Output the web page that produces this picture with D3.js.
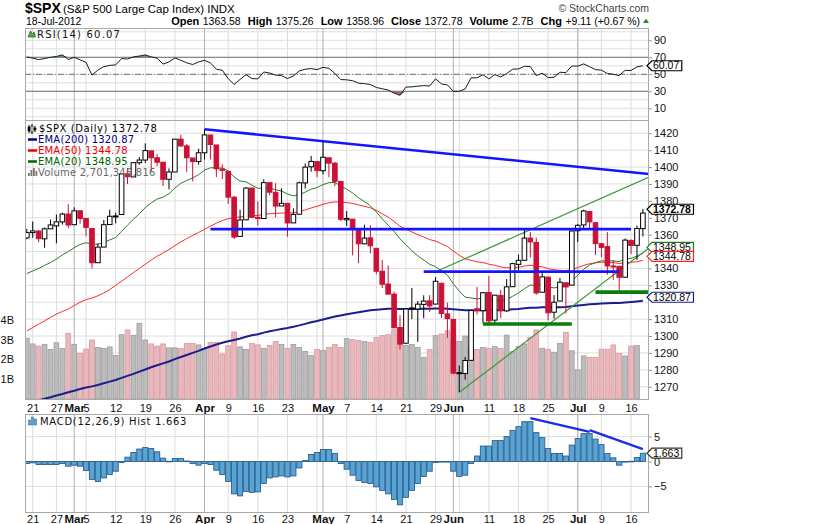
<!DOCTYPE html>
<html>
<head>
<meta charset="utf-8">
<script src="https://d3js.org/d3.v7.min.js"></script>
<style>
  body { margin: 0; background: #fff; }
</style>
</head>
<body>
<div class="canvas"></div>
<script>
// trading days shown (2012)
const dates = ["02-17","02-21","02-22","02-23","02-24","02-27","02-28","02-29",
  "03-01","03-02","03-05","03-06","03-07","03-08","03-09","03-12","03-13","03-14","03-15","03-16","03-19","03-20","03-21","03-22","03-23","03-26","03-27","03-28","03-29","03-30",
  "04-02","04-03","04-04","04-05","04-09","04-10","04-11","04-12","04-13","04-16","04-17","04-18","04-19","04-20","04-23","04-24","04-25","04-26","04-27","04-30",
  "05-01","05-02","05-03","05-04","05-07","05-08","05-09","05-10","05-11","05-14","05-15","05-16","05-17","05-18","05-21","05-22","05-23","05-24","05-25","05-29","05-30","05-31",
  "06-01","06-04","06-05","06-06","06-07","06-08","06-11","06-12","06-13","06-14","06-15","06-18","06-19","06-20","06-21","06-22","06-25","06-26","06-27","06-28","06-29",
  "07-02","07-03","07-05","07-06","07-09","07-10","07-11","07-12","07-13","07-16","07-17","07-18"];

const open = [1358.06,1361.22,1362.11,1357.53,1363.46,1365.20,1367.56,1372.20,
  1365.90,1374.09,1369.59,1363.63,1343.39,1352.65,1365.97,1370.78,1371.92,1395.95,1394.17,1402.55,1404.17,1409.59,1405.52,1402.89,1392.78,1397.11,1416.55,1412.52,1405.39,1403.31,
  1408.47,1418.98,1413.09,1398.79,1397.45,1382.18,1358.98,1368.77,1387.61,1370.27,1369.57,1390.78,1385.08,1376.96,1378.53,1366.97,1372.11,1390.64,1400.19,1403.26,
  1397.86,1405.50,1402.32,1391.51,1368.79,1369.16,1363.20,1354.58,1358.11,1351.93,1338.36,1330.78,1324.82,1305.05,1295.73,1316.09,1316.02,1318.72,1320.81,1318.90,1331.25,1313.09,
  1309.87,1278.29,1277.82,1285.61,1316.15,1314.99,1325.72,1309.40,1324.02,1314.88,1329.19,1342.42,1344.83,1357.98,1355.43,1325.92,1334.90,1314.09,1320.71,1331.52,1330.12,
  1362.33,1365.75,1373.72,1367.09,1354.66,1352.96,1341.40,1341.29,1334.81,1356.50,1353.68,1363.58];

const high = [1363.40,1367.76,1362.70,1364.24,1368.92,1371.94,1373.09,1378.04,
  1376.17,1374.53,1369.59,1363.63,1354.85,1368.72,1374.76,1373.04,1396.13,1399.42,1402.63,1405.88,1414.00,1409.59,1407.75,1402.89,1399.18,1416.58,1419.15,1413.65,1405.39,1410.89,
  1422.38,1419.00,1413.09,1401.60,1397.45,1383.01,1374.71,1388.13,1387.61,1379.66,1392.76,1390.78,1390.46,1387.40,1378.53,1375.57,1391.37,1402.09,1406.64,1403.26,
  1415.32,1405.50,1403.07,1391.51,1373.91,1369.16,1363.73,1365.88,1365.66,1351.93,1344.94,1341.78,1326.36,1312.24,1316.39,1328.49,1320.71,1324.14,1324.20,1334.93,1331.25,1319.74,
  1309.87,1282.55,1287.62,1315.13,1329.05,1325.81,1335.52,1324.31,1327.28,1333.68,1343.32,1348.22,1363.46,1361.57,1358.27,1337.82,1334.90,1324.24,1334.40,1331.52,1362.17,
  1366.35,1374.81,1373.85,1367.09,1354.87,1361.54,1345.00,1341.29,1357.70,1357.26,1365.36,1375.26];

const low = [1357.24,1358.11,1355.53,1352.28,1363.46,1354.92,1365.97,1363.81,
  1365.90,1366.42,1359.13,1340.03,1343.39,1352.65,1365.97,1366.69,1371.92,1389.97,1394.17,1401.47,1402.43,1397.68,1400.64,1388.73,1386.87,1397.11,1411.95,1397.20,1391.56,1401.42,
  1404.46,1404.62,1394.09,1392.92,1378.24,1357.38,1358.98,1368.77,1369.85,1365.38,1369.57,1383.29,1370.30,1376.96,1358.79,1366.82,1372.11,1387.28,1397.31,1394.00,
  1395.73,1393.92,1388.71,1367.96,1365.12,1347.75,1343.13,1354.58,1348.89,1336.61,1328.41,1324.79,1304.86,1291.98,1295.73,1310.04,1296.53,1310.50,1314.23,1318.90,1310.76,1298.90,
  1277.25,1266.74,1274.16,1285.61,1312.68,1307.77,1307.73,1306.62,1310.51,1314.14,1329.19,1338.63,1344.83,1346.45,1324.41,1325.92,1309.27,1310.30,1320.71,1313.29,1330.12,
  1355.70,1363.53,1363.02,1348.03,1346.65,1336.27,1333.25,1325.41,1334.81,1348.51,1345.07,1358.96];

const close = [1361.23,1362.21,1357.66,1363.46,1365.74,1367.59,1372.18,1365.68,
  1374.09,1369.63,1364.33,1343.36,1352.63,1365.91,1370.87,1371.09,1395.95,1394.28,1402.60,1404.17,1409.75,1405.52,1402.89,1392.78,1397.11,1416.51,1412.52,1405.54,1403.28,1408.47,
  1419.04,1413.38,1398.96,1398.08,1382.20,1358.59,1368.71,1387.57,1370.26,1369.57,1390.78,1385.14,1376.92,1378.53,1366.94,1371.97,1390.69,1399.98,1403.36,1397.91,
  1405.82,1402.31,1391.57,1369.10,1369.58,1363.72,1354.58,1357.99,1353.39,1338.35,1330.66,1324.80,1304.86,1295.22,1315.99,1316.63,1318.86,1320.68,1317.82,1332.42,1313.32,1310.33,
  1278.04,1278.18,1285.50,1315.13,1314.99,1325.66,1308.93,1324.18,1314.88,1329.10,1342.84,1344.78,1357.98,1355.69,1325.51,1335.02,1313.72,1319.99,1331.85,1329.04,1362.16,
  1365.51,1374.02,1367.58,1354.68,1352.46,1341.47,1341.45,1334.76,1356.78,1353.64,1363.67,1372.78];

// volume, billions of shares
const volume = [3.07,2.78,2.67,2.76,2.50,2.84,2.55,3.32,
  2.76,2.30,2.52,2.98,2.60,2.55,2.63,2.20,3.25,3.49,3.22,3.83,2.98,2.78,2.67,2.78,2.58,2.58,2.55,2.80,2.80,2.73,
  2.55,2.86,2.86,2.27,2.69,3.39,2.63,2.50,2.80,2.73,2.55,2.70,2.90,2.75,2.55,2.75,2.60,2.40,2.20,2.50,
  2.45,2.60,2.75,2.60,3.05,3.00,2.95,2.90,2.85,3.10,3.20,3.25,3.50,2.85,2.70,2.75,2.60,2.10,2.50,3.20,3.28,3.45,
  2.98,2.90,3.18,2.60,2.50,2.60,2.56,2.64,2.56,3.23,2.39,2.64,2.78,3.12,3.49,2.56,2.51,2.36,2.81,3.37,2.43,
  1.46,2.17,2.10,2.10,2.51,2.51,2.73,2.30,2.17,2.67,2.70];

const ema200 = [1260.0,1261.0,1261.9,1262.9,1263.8,1264.8,1265.7,1266.7,1267.6,1268.6,1269.5,1270.2,1271.0,1272.0,1273.0,1274.0,1275.2,1276.4,1277.6,1278.9,1280.2,1281.5,1282.7,1283.8,1284.9,1286.3,1287.6,1288.8,1290.0,1291.2,
  1292.6,1293.8,1295.0,1296.0,1296.9,1297.6,1298.5,1299.6,1300.4,1301.1,1302.0,1302.8,1303.5,1304.2,1304.8,1305.5,1306.3,1307.2,1308.1,1308.9,
  1309.8,1310.7,1311.5,1312.2,1312.9,1313.5,1314.1,1314.7,1315.2,1315.6,1315.9,1316.1,1316.1,1316.0,1316.0,1316.0,1316.0,1316.1,1316.1,1316.3,1316.3,1316.2,
  1315.9,1315.5,1315.2,1315.2,1315.2,1315.3,1315.3,1315.4,1315.4,1315.5,1315.8,1316.0,1316.4,1316.7,1316.8,1317.0,1317.0,1317.0,1317.1,1317.2,1317.6,
  1318.0,1318.4,1318.8,1319.0,1319.2,1319.4,1319.5,1319.6,1319.9,1320.2,1320.5,1320.87];

const ema50 = [1303.0,1305.0,1307.0,1309.0,1311.0,1313.0,1314.5,1316.0,1318.0,1320.0,1321.5,1322.5,1323.8,1325.5,1327.5,1330.0,1332.5,1335.0,1337.5,1340.0,1342.5,1345.0,1347.2,1349.2,1351.2,1353.5,1355.7,1357.7,1359.5,1361.3,
  1363.2,1365.0,1366.8,1368.3,1369.5,1370.0,1370.5,1371.0,1371.2,1371.4,1372.0,1372.4,1372.6,1372.8,1372.8,1372.9,1373.6,1374.6,1375.8,1376.8,
  1377.9,1378.9,1379.4,1379.3,1379.0,1378.5,1377.6,1376.8,1375.9,1374.4,1372.3,1370.4,1367.8,1365.0,1363.2,1361.6,1360.0,1358.6,1357.1,1356.2,1354.6,1353.0,
  1350.3,1347.8,1345.7,1344.8,1343.9,1343.5,1342.5,1341.9,1340.9,1340.4,1340.5,1340.7,1341.4,1341.9,1341.3,1341.0,1339.9,1339.2,1338.9,1338.6,1339.5,
  1340.5,1341.8,1342.8,1343.3,1343.7,1343.6,1343.5,1342.9,1343.4,1343.6,1344.0,1344.78];

const ema20 = [1337.0,1338.5,1340.0,1341.8,1343.5,1345.5,1348.0,1350.0,1352.3,1354.2,1355.2,1354.5,1354.3,1355.4,1356.9,1358.3,1362.0,1365.6,1369.1,1372.4,1376.0,1378.8,1381.1,1382.2,1384.2,1387.6,1390.4,1392.1,1393.6,1395.5,
  1398.2,1399.6,1399.5,1399.4,1397.8,1394.1,1391.7,1391.3,1389.3,1387.4,1387.8,1387.6,1386.6,1385.8,1384.1,1383.0,1383.7,1385.2,1386.9,1387.9,
  1389.6,1390.8,1390.9,1388.8,1386.9,1384.7,1381.8,1379.6,1377.1,1373.4,1369.4,1365.6,1362.0,1357.5,1354.0,1350.5,1347.5,1345.0,1342.5,1341.0,1338.5,1336.0,
  1331.0,1326.5,1323.0,1322.5,1322.0,1322.3,1321.0,1321.3,1320.8,1321.6,1323.5,1325.5,1328.0,1330.2,1330.0,1330.5,1329.0,1328.5,1329.0,1329.5,1332.5,
  1336.0,1339.5,1342.0,1343.5,1344.5,1344.5,1344.5,1344.0,1345.5,1346.0,1347.3,1348.95];

const rsi = [70.5,69.0,67.3,68.5,70.0,71.0,72.8,67.5,70.0,67.0,64.0,49.0,55.0,59.0,60.5,61.0,68.5,68.0,70.5,71.5,72.8,70.5,69.0,62.0,64.5,69.3,66.5,63.5,61.5,64.5,
  66.5,63.4,56.0,54.7,45.0,38.0,44.0,49.6,45.0,44.6,52.7,51.5,49.0,48.5,45.0,48.0,54.0,56.0,56.7,55.5,
  58.2,57.0,51.0,43.8,43.5,42.5,39.5,39.0,38.0,34.5,33.0,31.5,28.0,25.3,35.0,35.2,36.0,36.7,36.2,44.6,38.7,37.5,
  30.0,30.0,32.8,45.8,45.8,49.6,44.6,49.6,46.9,50.8,56.0,56.3,59.4,59.0,48.5,51.2,46.1,46.5,52.4,52.0,59.8,
  59.6,62.2,59.0,55.5,54.8,51.0,50.0,48.5,54.7,54.5,58.7,60.07];

const macdHist = [-0.40,-0.27,-0.60,-0.60,-0.60,-0.60,-0.40,-0.94,-0.74,-0.94,-1.80,-3.60,-4.00,-3.30,-2.60,-1.95,-0.20,0.87,1.80,2.50,2.80,2.60,1.95,0.67,0.05,0.60,0.60,0.10,-0.40,-0.74,
  -0.40,-0.60,-1.75,-2.60,-4.00,-6.50,-6.90,-6.00,-6.20,-6.10,-4.40,-3.30,-3.10,-2.90,-3.10,-2.90,-1.30,0.20,1.40,1.80,
  2.40,2.40,1.60,-0.40,-1.55,-2.75,-3.80,-4.20,-4.40,-5.10,-5.80,-6.50,-7.60,-8.70,-7.20,-5.80,-4.40,-3.00,-1.95,-0.20,-0.07,-0.05,
  -1.95,-3.00,-2.75,-0.40,1.10,3.10,3.10,4.20,4.20,5.00,6.25,7.00,8.00,8.00,5.80,4.80,2.60,1.60,1.60,1.10,3.30,
  4.60,5.60,5.60,4.50,3.40,1.60,0.74,-0.74,-0.05,0.05,0.80,1.663];

// axis ticks
const priceTicks = [1270,1280,1290,1300,1310,1320,1330,1340,1350,1360,1370,1380,1390,1400,1410,1420];
const volTicks = [1,2,3,4];
const rsiTicks = [10,30,50,70,90];
const rsiGrid = [0,10,20,30,40,50,60,70,80,90,100];
const macdTicks = [-5,0,5];
const weekTicks = ["02-21","02-27","03-05","03-12","03-19","03-26","04-09","04-16","04-23","05-07","05-14","05-21","05-29","06-11","06-18","06-25","07-09","07-16"];
const monthTicks = ["03-01","04-02","05-01","06-01","07-02"];
const monthNames = ["Mar","Apr","May","Jun","Jul"];

// hand drawn annotations: [start date, value, end date, value, extend to edge]
const blueLines = [["04-02",1422.4,"07-18",1396.3,true],["04-03",1363.3,"07-16",1363.3,false],["05-24",1338.1,"07-12",1338.1,false]];
const greenBars = [["06-08",1307.1,"06-29",1307.1,false],["07-06",1326.0,"07-18",1326.0,true]];
const greenRays = [["06-04",1266.7,"07-18",1349.4,true],["05-29",1338.0,"07-18",1392.5,true]];
const macdLines = [["06-20",8.7,"07-05",5.96,false],["07-05",6.3,"07-18",2.5,false]];

const svg = d3.select('.canvas')
    .append('svg')
    .attr('width', 819)
    .attr('height', 524)
    .style('font-family', '"Liberation Sans", Arial, sans-serif')

const plot = { left: 25, right: 649 };
const panes = {
    rsi: { top: 28, bottom: 120 },
    main: { top: 120, bottom: 399 },
    macd: { top: 414, bottom: 512 }
};

const x = d3.scalePoint().domain(dates).range([26.8, 642.9]);
const y = d3.scaleLinear().domain([1270, 1420]).range([386.7, 133.3]);
const yVol = d3.scaleLinear().domain([0, 4]).range([398.7, 319.9]);
const yRsi = d3.scaleLinear().domain([30, 70]).range([91.3, 57.3]);
const yMacd = d3.scaleLinear().domain([-5, 5]).range([486.4, 436.6]);

const parse = d3.timeParse('%Y-%m-%d');
const days = dates.map(d => parse('2012-' + d));
const weekStarts = dates.filter((d, i) => i > 0 && +d3.timeMonday.floor(days[i]) !== +d3.timeMonday.floor(days[i - 1]));
const monthStarts = dates.filter((d, i) => i > 0 && days[i].getMonth() !== days[i - 1].getMonth());
const isUp = i => i === 0 || close[i] >= close[i - 1];
const last = dates.length - 1;

const defs = svg.append('defs');
Object.entries(panes).forEach(([k, p]) => {
    defs.append('clipPath').attr('id', 'clip-' + k)
        .append('rect').attr('x', plot.left).attr('y', p.top)
        .attr('width', plot.right - plot.left).attr('height', p.bottom - p.top);
});

// grid for a pane
function grid(p, yVals, ys) {
    const g = svg.append('g').attr('clip-path', `url(#clip-${p})`);
    const pane = panes[p];
    g.selectAll('line.h').data(yVals).join('line')
        .attr('x1', plot.left).attr('x2', plot.right)
        .attr('y1', d => ys(d)).attr('y2', d => ys(d))
        .attr('stroke', '#dedede');
    g.selectAll('line.w').data(weekStarts).join('line')
        .attr('x1', d => x(d)).attr('x2', d => x(d))
        .attr('y1', pane.top).attr('y2', pane.bottom)
        .attr('stroke', '#dcdcdc');
    g.selectAll('line.m').data(monthStarts).join('line')
        .attr('x1', d => x(d)).attr('x2', d => x(d))
        .attr('y1', pane.top).attr('y2', pane.bottom)
        .attr('stroke', '#b0b0b0');
    return g;
}

function frame(p) {
    svg.append('rect').attr('x', plot.left + 0.5).attr('y', panes[p].top + 0.5)
        .attr('width', plot.right - plot.left - 1).attr('height', panes[p].bottom - panes[p].top)
        .attr('fill', 'none').attr('stroke', '#a8a8a8');
}

// segments defined in data space, optionally extended to the right edge
function segment(g, seg, ys, color, width) {
    const [d1, v1, d2, v2, ext] = seg;
    let x1 = x(d1), y1 = ys(v1), x2 = x(d2), y2 = ys(v2);
    if (ext) {
        const k = (y2 - y1) / (x2 - x1);
        y2 = y2 + k * (plot.right - x2);
        x2 = plot.right;
    }
    g.append('line').attr('x1', x1).attr('y1', y1).attr('x2', x2).attr('y2', y2)
        .attr('stroke', color).attr('stroke-width', width);
}

// ---------- RSI pane ----------
const rsiG = grid('rsi', rsiGrid, yRsi);
rsiG.selectAll('line.lvl').data([70, 30]).join('line')
    .attr('x1', plot.left).attr('x2', plot.right)
    .attr('y1', d => yRsi(d)).attr('y2', d => yRsi(d))
    .attr('stroke', '#707070');
rsiG.append('line')
    .attr('x1', plot.left).attr('x2', plot.right)
    .attr('y1', yRsi(50)).attr('y2', yRsi(50))
    .attr('stroke', '#707070').attr('stroke-dasharray', '6,2,1,2');
rsiG.append('path').datum(dates)
    .attr('fill', '#5f9b5f')
    .attr('d', d3.area().x(d => x(d)).y0(yRsi(70)).y1((d, i) => yRsi(Math.max(rsi[i], 70))));
rsiG.append('path').datum(dates)
    .attr('fill', '#a86e6e')
    .attr('d', d3.area().x(d => x(d)).y0(yRsi(30)).y1((d, i) => yRsi(Math.min(rsi[i], 30))));
rsiG.append('path').datum(dates)
    .attr('fill', 'none').attr('stroke', '#1a1a1a').attr('stroke-width', 1)
    .attr('d', d3.line().x(d => x(d)).y((d, i) => yRsi(rsi[i])));
frame('rsi');

// ---------- price pane ----------
const mainG = grid('main', priceTicks, y);

mainG.selectAll('rect.vol').data(dates).join('rect')
    .attr('x', d => x(d) - 2.4).attr('width', 4.8)
    .attr('y', (d, i) => yVol(volume[i]))
    .attr('height', (d, i) => yVol(0) - yVol(volume[i]))
    .attr('fill', (d, i) => isUp(i) ? '#bcbcbc' : '#e8b8bc')
    .attr('stroke', (d, i) => isUp(i) ? '#9d9d9d' : '#d79aa1')
    .attr('stroke-width', 0.8);

const emaLine = arr => d3.line().x(d => x(d)).y((d, i) => y(arr[i]));
mainG.append('path').datum(dates).attr('fill', 'none')
    .attr('stroke', '#1c1c8e').attr('stroke-width', 2).attr('d', emaLine(ema200));
mainG.append('path').datum(dates).attr('fill', 'none')
    .attr('stroke', '#ff2a2a').attr('stroke-width', 1).attr('d', emaLine(ema50));
mainG.append('path').datum(dates).attr('fill', 'none')
    .attr('stroke', '#2f7a2f').attr('stroke-width', 1).attr('d', emaLine(ema20));

greenRays.forEach(s => segment(mainG, s, y, '#3c963c', 1.2));

const candles = mainG.selectAll('g.candle').data(dates).join('g');
candles.append('line')
    .attr('x1', d => x(d)).attr('x2', d => x(d))
    .attr('y1', (d, i) => y(high[i])).attr('y2', (d, i) => y(low[i]))
    .attr('stroke', (d, i) => isUp(i) ? '#000' : '#cc1136');
candles.append('rect')
    .attr('x', d => x(d) - 2.3).attr('width', 4.6)
    .attr('y', (d, i) => y(Math.max(open[i], close[i])))
    .attr('height', (d, i) => Math.max(1, Math.abs(y(open[i]) - y(close[i]))))
    .attr('fill', (d, i) => close[i] < open[i] ? (isUp(i) ? '#000' : '#cc1136') : '#fff')
    .attr('stroke', (d, i) => isUp(i) ? '#000' : '#cc1136')
    .attr('stroke-width', 1);

blueLines.forEach(s => segment(mainG, s, y, '#1414ff', 2.6));
greenBars.forEach(s => segment(mainG, s, y, '#0a7d0a', 3.6));
frame('main');

// ---------- MACD pane ----------
const macdG = grid('macd', macdTicks, yMacd);
macdG.selectAll('rect.h').data(dates).join('rect')
    .attr('x', d => x(d) - 2.6).attr('width', 5.2)
    .attr('y', (d, i) => yMacd(Math.max(0, macdHist[i])))
    .attr('height', (d, i) => Math.max(0.6, Math.abs(yMacd(macdHist[i]) - yMacd(0))))
    .attr('fill', '#58a4d2').attr('stroke', '#2b5e92').attr('stroke-width', 0.9);
macdLines.forEach(s => segment(macdG, s, yMacd, '#1b2fe0', 2.4));
frame('macd');

// ---------- value tags on the right (centres) ----------
const priceTags = [
    [y(close[last]) - 3.8, close[last].toFixed(2), '#000', true],
    [y(ema20[last]) - 6, ema20[last].toFixed(2), '#1f7a1f', false],
    [y(ema50[last]) - 4, ema50[last].toFixed(2), '#ff2020', false],
    [y(ema200[last]) - 3.5, ema200[last].toFixed(2), '#1c1c8e', false]
];
// a price label that sits under a tag is hidden, as on the original
const covered = v => priceTags.some(t => Math.abs(t[0] - y(v)) < 6);

// ---------- axes ----------
function styleAxis(g) {
    g.select('.domain').remove();
    g.attr('font-family', '"Liberation Sans", Arial, sans-serif').attr('font-size', 11);
    g.selectAll('line').attr('stroke', '#999');
    g.selectAll('text').attr('fill', '#111');
}
svg.append('g').attr('transform', `translate(${plot.right},0)`)
    .call(d3.axisRight(y).tickValues(priceTicks.filter(v => !covered(v))).tickFormat(d3.format('d')).tickSize(3).tickPadding(2)).call(styleAxis);
svg.append('g').attr('transform', `translate(${plot.right},0)`)
    .call(d3.axisRight(yRsi).tickValues(rsiTicks).tickSize(3).tickPadding(2)).call(styleAxis);
svg.append('g').attr('transform', `translate(${plot.right},0)`)
    .call(d3.axisRight(yMacd).tickValues(macdTicks).tickSize(3).tickPadding(2)).call(styleAxis);
svg.append('g').attr('transform', `translate(${plot.left},0)`)
    .call(d3.axisLeft(yVol).tickValues(volTicks).tickFormat(d => d + 'B').tickSize(0).tickPadding(11))
    .call(styleAxis);

[panes.main.bottom, panes.macd.bottom].forEach((yy, k) => {
    svg.append('g').attr('transform', `translate(0,${yy})`)
        .call(d3.axisBottom(x).tickValues(weekTicks).tickFormat(d => +d.slice(3)).tickSize(0).tickPadding(k ? 3 : 5))
        .call(styleAxis);
    svg.append('g').attr('transform', `translate(0,${yy})`)
        .call(d3.axisBottom(x).tickValues(monthTicks).tickFormat((d, i) => monthNames[i]).tickSize(0).tickPadding(k ? 3 : 5))
        .call(styleAxis)
        .call(g => g.selectAll('text').attr('font-weight', 'bold').attr('font-size', 11.5));
});

function tag(yc, label, color, bold) {
    const g = svg.append('g');
    const x0 = plot.right - 2;
    const t = g.append('text').attr('x', x0 + 6).attr('y', yc + 3.6)
        .attr('font-size', 10.5).attr('font-weight', bold ? 'bold' : 'normal')
        .attr('fill', '#000').text(label);
    const xr = x0 + 6 + t.node().getComputedTextLength() + 2.5;
    g.insert('path', 'text')
        .attr('d', `M${x0},${yc} L${x0 + 5},${yc - 5} L${xr},${yc - 5} L${xr},${yc + 5} L${x0 + 5},${yc + 5} Z`)
        .attr('fill', '#fff').attr('stroke', color).attr('stroke-width', 1.2);
}
tag(yRsi(rsi[last]), rsi[last].toFixed(2), '#000', false);
tag(yVol(volume[last]), '2701346', '#333', false);
[3, 1, 2, 0].forEach(k => tag(...priceTags[k]));
tag(yMacd(macdHist[last]), macdHist[last].toFixed(3), '#333', false);

// ---------- legends ----------
const legendFont = '"DejaVu Sans", Verdana, sans-serif';
function legendText(xx, yy, txt, color, spacing) {
    return svg.append('text').attr('x', xx).attr('y', yy)
        .style('font-family', legendFont).style('font-size', '10px')
        .style('letter-spacing', (spacing == null ? 0.4 : spacing) + 'px')
        .attr('fill', color).text(txt);
}
// RSI
svg.append('path').attr('d', 'M28,37 L30.5,31 L32.5,34 L34,32 L35.5,37 Z').attr('fill', '#5f9b5f').attr('stroke', '#2f6a2f').attr('stroke-width', 0.8);
legendText(37, 38, 'RSI(14) ' + rsi[last].toFixed(2), '#111', 1.2);

// price legend
const candleIcon = svg.append('g');
[[29, 126, 132], [32, 125, 133], [35, 127, 131]].forEach(([cx, a, b], k) => {
    candleIcon.append('line').attr('x1', cx).attr('x2', cx).attr('y1', a - 1).attr('y2', b + 1).attr('stroke', '#000');
    candleIcon.append('rect').attr('x', cx - 1).attr('y', a + 1).attr('width', 2).attr('height', b - a - 2)
        .attr('fill', k === 1 ? '#fff' : '#000').attr('stroke', '#000').attr('stroke-width', 0.6);
});
legendText(39, 132, '$SPX (Daily) ' + close[last].toFixed(2), '#000', 0.6);
[['EMA(200) ' + ema200[last].toFixed(2), '#000080'],
 ['EMA(50) ' + ema50[last].toFixed(2), '#ee0000'],
 ['EMA(20) ' + ema20[last].toFixed(2), '#006400']].forEach(([txt, c], k) => {
    const yy = 143 + k * 11;
    svg.append('line').attr('x1', 28).attr('x2', 37).attr('y1', yy - 3.5).attr('y2', yy - 3.5)
        .attr('stroke', c).attr('stroke-width', 2.5);
    legendText(38, yy, txt, c, 0.2);
});
[[28, 3], [30.5, 6], [33, 8], [35.5, 5]].forEach(([bx, h]) => {
    svg.append('rect').attr('x', bx).attr('y', 176 - h).attr('width', 1.8).attr('height', h).attr('fill', '#777');
});
legendText(38, 176, 'Volume 2,701,346,816', '#666', 0.2);

// MACD legend
[[28.5, 5], [31.5, 8], [34.5, 6]].forEach(([bx, h]) => {
    svg.append('rect').attr('x', bx).attr('y', 425 - h).attr('width', 2).attr('height', h)
        .attr('fill', '#58a4d2').attr('stroke', '#2b5e92').attr('stroke-width', 0.5);
});
legendText(40, 425, 'MACD(12,26,9) Hist ' + macdHist[last].toFixed(3), '#111', 0.7);

// ---------- header ----------
svg.append('text').attr('x', 25).attr('y', 13).attr('font-size', 14).attr('font-weight', 'bold').text('$SPX');
svg.append('text').attr('x', 63).attr('y', 13).attr('font-size', 11.5).text('(S&P 500 Large Cap Index) INDX');
svg.append('text').attr('x', 26).attr('y', 24.5).attr('font-size', 10.5).text('18-Jul-2012');
svg.append('text').attr('x', 649).attr('y', 12).attr('font-size', 10.5).attr('fill', '#444')
    .attr('text-anchor', 'end').text('\u00a9 StockCharts.com');

const chg = close[last] - close[last - 1];
const info = [
    ['Open', open[last].toFixed(2)],
    ['High', high[last].toFixed(2)],
    ['Low', low[last].toFixed(2)],
    ['Close', close[last].toFixed(2)],
    ['Volume', '2.7B'],
    ['Chg', '+' + chg.toFixed(2) + ' (+' + (chg / close[last - 1] * 100).toFixed(2) + ' %)']
];
const infoText = svg.append('text').attr('x', 640).attr('y', 24.5).attr('text-anchor', 'end');
info.forEach(([k, v], i) => {
    infoText.append('tspan').attr('dx', i ? 7 : 0).attr('font-weight', 'bold').attr('font-size', 11).text(k);
    infoText.append('tspan').attr('dx', 3.5).attr('font-size', 10.5).text(v);
});
svg.append('path').attr('d', 'M643,23 L646,18.5 L649,23 Z').attr('fill', '#2a8a2a');
</script>
</body>
</html>
